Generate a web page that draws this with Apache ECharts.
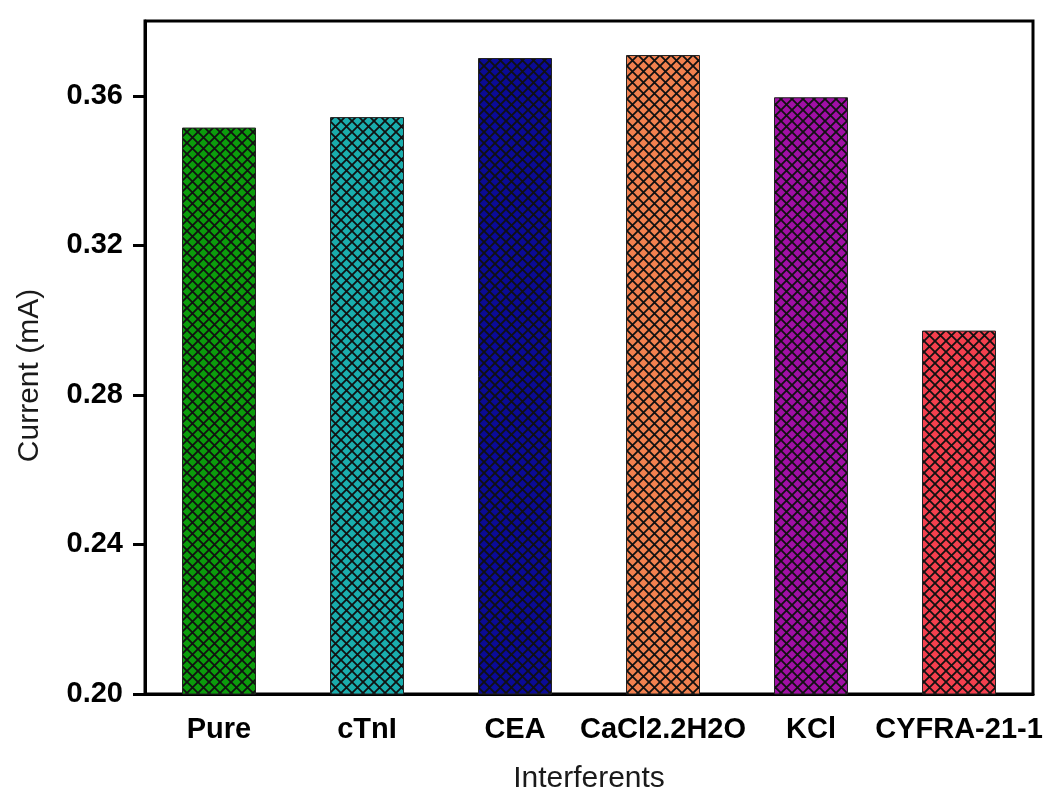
<!DOCTYPE html>
<html>
<head>
<meta charset="utf-8">
<script src="https://cdn.jsdelivr.net/npm/echarts@6/dist/echarts.min.js"></script>
<style>
  html, body { margin: 0; padding: 0; background: #fff; }
  #chart { width: 1048px; height: 791px; }
</style>
</head>
<body>
<div id="chart"></div>
<script>
// Measured current for the target and each interferent
const categories = ['Pure', 'cTnI', 'CEA', 'CaCl2.2H2O', 'KCl', 'CYFRA-21-1'];
const currents = [0.3515, 0.3543, 0.3701, 0.3709, 0.3596, 0.2972];
const barColors = ['#0c9c0c', '#1aadad', '#0b0b96', '#f2814f', '#a010a5', '#f4404e'];
const yTicks = [0.20, 0.24, 0.28, 0.32, 0.36];

// Cross-hatched fill: base colour with two diagonal dark line sets
function hatch(color) {
  const s = 11;
  const c = document.createElement('canvas');
  c.width = s; c.height = s;
  const g = c.getContext('2d');
  g.fillStyle = color;
  g.fillRect(0, 0, s, s);
  g.strokeStyle = '#111';
  g.lineWidth = 1.8;
  g.beginPath();
  g.moveTo(-1, -1); g.lineTo(s + 1, s + 1);
  g.moveTo(-1, s + 1); g.lineTo(s + 1, -1);
  g.stroke();
  return { image: c, repeat: 'repeat' };
}

const chart = echarts.init(document.getElementById('chart'));
chart.setOption({
  backgroundColor: '#fff',
  animation: false,
  grid: {
    left: 145, right: 15, top: 21, bottom: 97,
    outerBoundsMode: 'none',
    show: true, borderColor: '#000', borderWidth: 3, backgroundColor: 'transparent'
  },
  xAxis: {
    type: 'category',
    data: categories,
    name: 'Interferents',
    nameLocation: 'middle',
    nameGap: 70,
    nameTextStyle: { fontFamily: 'Liberation Sans', fontSize: 30, color: '#1a1a1a' },
    axisLine: { lineStyle: { color: '#000', width: 3 } },
    axisTick: { alignWithLabel: true, interval: 0, length: 12, lineStyle: { color: '#000', width: 3 } },
    axisLabel: {
      interval: 0, hideOverlap: false,
      margin: 21, color: '#000', fontFamily: 'Liberation Sans',
      fontWeight: 'bold', fontSize: 29
    }
  },
  yAxis: {
    type: 'value',
    min: 0.20, max: 0.38, interval: 0.04,
    name: 'Current (mA)',
    nameLocation: 'middle',
    nameGap: 100,
    nameTextStyle: { fontFamily: 'Liberation Sans', fontSize: 30, color: '#1a1a1a', padding: [0, 36, 0, 0] },
    splitLine: { show: false },
    axisLine: { show: true, lineStyle: { color: '#000', width: 3 } },
    axisTick: { show: true, length: 12, customValues: yTicks, lineStyle: { color: '#000', width: 3 } },
    axisLabel: {
      customValues: yTicks,
      margin: 22, color: '#000', fontFamily: 'Liberation Sans',
      fontWeight: 'bold', fontSize: 29,
      formatter: v => v.toFixed(2)
    }
  },
  series: [{
    type: 'bar',
    barWidth: '50%',
    data: currents.map((v, i) => ({
      value: v,
      itemStyle: { color: hatch(barColors[i]), borderColor: '#222', borderWidth: 1 }
    }))
  }]
});
</script>
</body>
</html>
